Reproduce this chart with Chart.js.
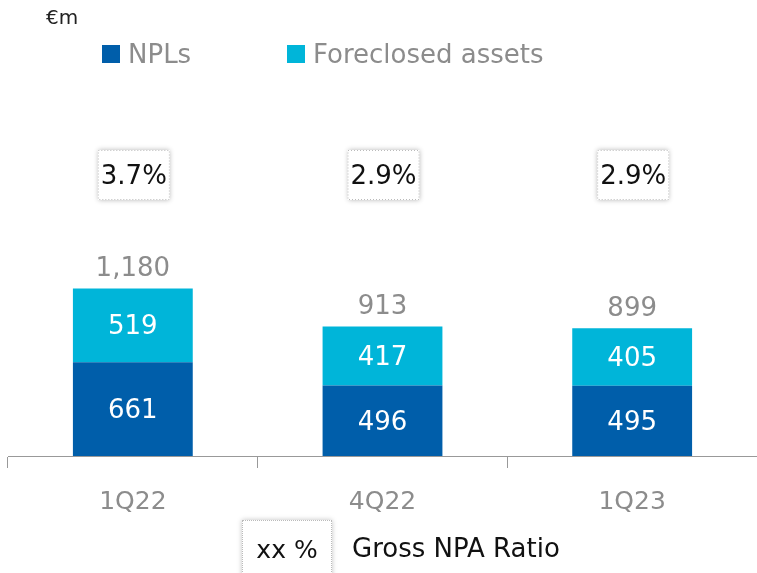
<!DOCTYPE html>
<html>
<head>
<meta charset="utf-8">
<script src="https://cdn.jsdelivr.net/npm/chart.js@4"></script>
<style>
  body { margin: 0; background: #fff; }
  #wrap { position: relative; width: 757px; height: 573px; overflow: hidden; }
  .unit { position: absolute; left: 46px; top: 5px; font: 20px "DejaVu Sans", sans-serif; color: #222; }
  .leg { position: absolute; top: 39px; font: 26px "DejaVu Sans", sans-serif; color: #8c8c8c; white-space: nowrap; }
  .leg span { display: inline-block; width: 18px; height: 18px; margin-right: 8px; vertical-align: 0px; }
  .key { position: absolute; left: 242px; top: 520px; width: 88px; height: 60px; background: #fff;
         border: 1px dotted #bbb; box-shadow: 0 0 5px rgba(0,0,0,0.25);
         font: 25px "DejaVu Sans", sans-serif; color: #111; text-align: center; line-height: 58px; }
  .keytxt { position: absolute; left: 352px; top: 533px; font: 26px "DejaVu Sans", sans-serif; color: #111; white-space: nowrap; }
</style>
</head>
<body>
<div id="wrap">
  <canvas id="chart" width="757" height="573"></canvas>
  <div class="unit">€m</div>
  <div class="leg" style="left:102px"><span style="background:#005eaa"></span>NPLs</div>
  <div class="leg" style="left:287px"><span style="background:#00b5d9"></span>Foreclosed assets</div>
  <div class="key">xx %</div>
  <div class="keytxt">Gross NPA Ratio</div>
</div>
<script>
// data
const quarters = ['1Q22', '4Q22', '1Q23'];
const npls = [661, 496, 495];
const foreclosed = [519, 417, 405];
const totals = ['1,180', '913', '899'];
const ratios = ['3.7%', '2.9%', '2.9%'];

const font = '"DejaVu Sans", sans-serif';

// labels inside bars, totals on top, ratio boxes
const labelsPlugin = {
    id: 'labels',
    afterDatasetsDraw(chart) {
        const ctx = chart.ctx;
        ctx.save();
        ctx.textAlign = 'center';
        ctx.textBaseline = 'middle';
        chart.data.datasets.forEach((ds, i) => {
            chart.getDatasetMeta(i).data.forEach((bar, j) => {
                ctx.fillStyle = '#fff';
                ctx.font = '26px ' + font;
                ctx.fillText(ds.data[j], bar.x, (bar.y + bar.base) / 2 + 2);
            });
        });
        const top = chart.getDatasetMeta(1).data;
        top.forEach((bar, j) => {
            ctx.fillStyle = '#8c8c8c';
            ctx.font = '26px ' + font;
            ctx.fillText(totals[j], bar.x, bar.y - 19);

            // ratio box
            const w = 72, h = 50, bx = bar.x - w / 2 + 1, by = 150;
            ctx.save();
            ctx.shadowColor = 'rgba(0,0,0,0.3)';
            ctx.shadowBlur = 5;
            ctx.fillStyle = '#fff';
            ctx.fillRect(bx, by, w, h);
            ctx.restore();
            ctx.strokeStyle = '#bbb';
            ctx.setLineDash([1, 2]);
            ctx.lineWidth = 1;
            ctx.strokeRect(bx + 0.5, by + 0.5, w - 1, h - 1);
            ctx.setLineDash([]);
            ctx.fillStyle = '#111';
            ctx.font = '26px ' + font;
            ctx.fillText(ratios[j], bx + w / 2, by + h / 2 + 2);
        });
        ctx.restore();
    }
};

new Chart(document.querySelector('#chart').getContext('2d'), {
    type: 'bar',
    data: {
        labels: quarters,
        datasets: [
            { label: 'NPLs', data: npls, backgroundColor: '#005eaa' },
            { label: 'Foreclosed assets', data: foreclosed, backgroundColor: '#00b5d9' }
        ]
    },
    options: {
        responsive: false,
        animation: false,
        layout: { padding: { top: 70, left: 8, right: 0, bottom: 37 } },
        datasets: { bar: { barPercentage: 0.48, categoryPercentage: 1 } },
        plugins: { legend: { display: false }, tooltip: { enabled: false } },
        scales: {
            x: {
                stacked: true,
                border: { display: true, color: '#999', width: 1 },
                grid: { offset: true, drawOnChartArea: false, drawTicks: true, tickLength: 12, color: '#999' },
                ticks: { color: '#8c8c8c', font: { family: font, size: 25 }, padding: 19 }
            },
            y: {
                stacked: true,
                display: false,
                min: 0,
                max: 2720
            }
        }
    },
    plugins: [labelsPlugin]
});
</script>
</body>
</html>
